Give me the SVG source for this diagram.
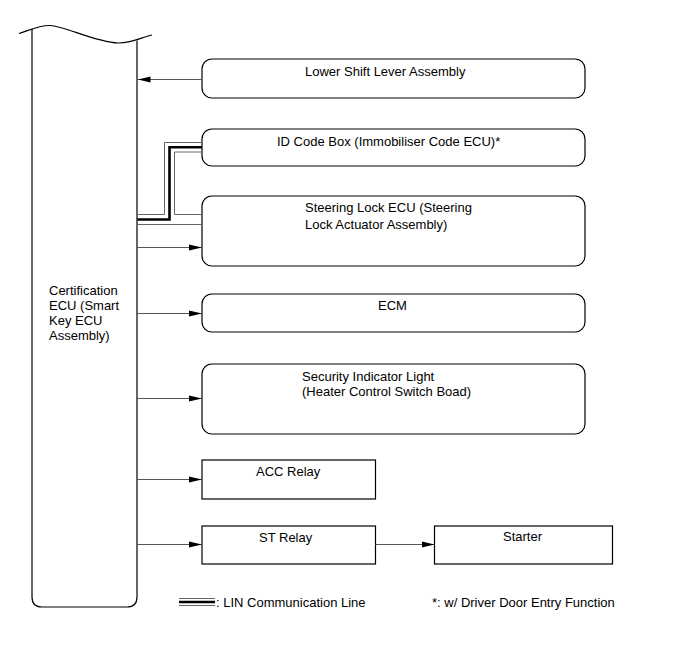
<svg xmlns="http://www.w3.org/2000/svg" width="691" height="660" viewBox="0 0 691 660">
<style>
  .box { fill: #fff; stroke: #000; stroke-width: 1.2; }
  .t { font-family: "Liberation Sans", Arial, sans-serif; font-size: 13px; fill: #000; }
  .conn { fill: none; stroke: #555; stroke-width: 1; }
  .lin { fill: none; stroke: #000; stroke-width: 2.6; }
  .linthin { fill: none; stroke: #666; stroke-width: 1; }
</style>
<defs>
  <marker id="ah" markerWidth="13" markerHeight="8" refX="13" refY="4" orient="auto" markerUnits="userSpaceOnUse">
    <path d="M0,1 L13,4 L0,7 Z" fill="#000"/>
  </marker>
</defs>
<rect width="691" height="660" fill="#fff"/>

<g id="certification-ecu">
  <path d="M19,33.5 C30,30 40,25 50,25.5 C65,26 95,42 118,43 C130,43.5 140,38 152,35" fill="none" stroke="#000" stroke-width="1.2"/>
  <path d="M32,29 V597 Q32,607 42,607 H127 Q137,607 137,597 V40.5" fill="none" stroke="#000" stroke-width="1.2"/>
  <text class="t" x="49" y="295">Certification</text>
  <text class="t" x="49" y="310">ECU (Smart</text>
  <text class="t" x="49" y="325">Key ECU</text>
  <text class="t" x="49" y="340">Assembly)</text>
</g>

<g id="lower-shift-lever">
  <rect class="box" x="202" y="59" width="383" height="39" rx="10"/>
  <text class="t" x="305" y="76">Lower Shift Lever Assembly</text>
</g>

<g id="id-code-box">
  <rect class="box" x="202" y="129" width="383" height="37" rx="10"/>
  <text class="t" x="277" y="146">ID Code Box (Immobiliser Code ECU)*</text>
</g>

<g id="steering-lock-ecu">
  <rect class="box" x="202" y="196" width="383" height="70" rx="10"/>
  <text class="t" x="305" y="212">Steering Lock ECU (Steering</text>
  <text class="t" x="305" y="229">Lock Actuator Assembly)</text>
</g>

<g id="ecm">
  <rect class="box" x="202" y="294" width="383" height="38" rx="10"/>
  <text class="t" x="378" y="310">ECM</text>
</g>

<g id="security-indicator">
  <rect class="box" x="202" y="364" width="383" height="70" rx="10"/>
  <text class="t" x="302" y="381">Security Indicator Light</text>
  <text class="t" x="302" y="396">(Heater Control Switch Boad)</text>
</g>

<g id="acc-relay">
  <rect class="box" x="202" y="460" width="173.5" height="39"/>
  <text class="t" x="256" y="476">ACC Relay</text>
</g>

<g id="st-relay">
  <rect class="box" x="202" y="526" width="173.5" height="38"/>
  <text class="t" x="259" y="542">ST Relay</text>
</g>

<g id="starter">
  <rect class="box" x="434.5" y="526" width="178" height="38"/>
  <text class="t" x="503" y="541">Starter</text>
</g>

<g id="connectors">
  <line class="conn" x1="202" y1="79.5" x2="137.5" y2="79.5" marker-end="url(#ah)"/>
  <line class="conn" x1="137.5" y1="247.5" x2="202" y2="247.5" marker-end="url(#ah)"/>
  <line class="conn" x1="137.5" y1="313.5" x2="202" y2="313.5" marker-end="url(#ah)"/>
  <line class="conn" x1="137.5" y1="398.5" x2="202" y2="398.5" marker-end="url(#ah)"/>
  <line class="conn" x1="137.5" y1="479.5" x2="202" y2="479.5" marker-end="url(#ah)"/>
  <line class="conn" x1="137.5" y1="544.5" x2="202" y2="544.5" marker-end="url(#ah)"/>
  <line class="conn" x1="375.5" y1="544.5" x2="434.5" y2="544.5" marker-end="url(#ah)"/>
  <!-- LIN communication line -->
  <path class="linthin" d="M137.5,214.5 H164.5 V142.5 H202"/>
  <path class="linthin" d="M202,152 H174.5 V214.5 H202"/>
  <path class="linthin" d="M137.5,224.5 H202"/>
  <path class="lin" d="M137.5,219.5 H169.5 V147.3 H202"/>
</g>

<g id="legend">
  <line x1="179" y1="598.5" x2="215" y2="598.5" stroke="#666" stroke-width="1"/>
  <line x1="179" y1="602" x2="215" y2="602" stroke="#000" stroke-width="2.6"/>
  <line x1="179" y1="605.5" x2="215" y2="605.5" stroke="#666" stroke-width="1"/>
  <text class="t" x="216" y="607">: LIN Communication Line</text>
  <text class="t" x="432" y="607">*: w/ Driver Door Entry Function</text>
</g>
</svg>
